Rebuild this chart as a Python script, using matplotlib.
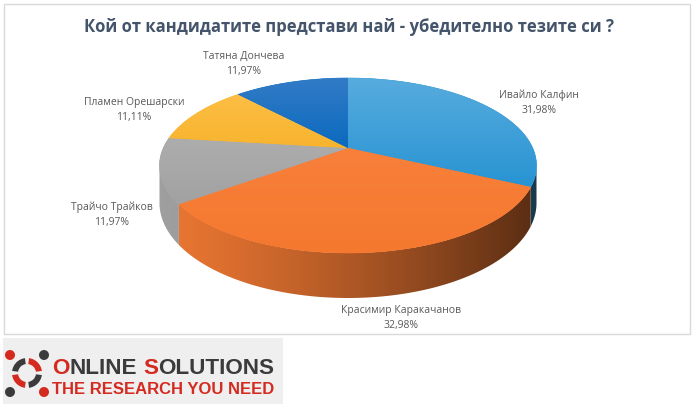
import numpy as np
import matplotlib.pyplot as plt
from matplotlib.patches import Polygon, Rectangle, Circle, Wedge
from matplotlib.colors import to_rgb

# данни
candidates = ["Ивайло Калфин", "Красимир Каракачанов", "Трайчо Трайков",
              "Пламен Орешарски", "Татяна Дончева"]
shares = [31.98, 32.98, 11.97, 11.11, 11.97]
title = "Кой от кандидатите представи най - убедително тезите си ?"

# стил
top_light = ['#57abde', '#f8803a', '#adadad', '#fcbe44', '#327bc6']
top_dark = ['#2894d3', '#f5782f', '#a2a2a2', '#f8b42e', '#0b6abf']
label_pos = [(539, 103), (401, 318), (112, 215), (134, 110), (244, 64)]

W, H = 695, 404
cx, cy = 348, 148
rx, ry = 184.7, 84
persp = 0.2
depth = 36


def project(theta):
    x = np.cos(theta)
    y = np.sin(theta)
    w = 1 + persp * y
    return cx + rx * x / w, cy - ry * y / w, w


def shade(col, X):
    t = np.clip((X - 160) / 377, 0, 1)
    f = 0.95 - 0.59 * t ** 1.3
    return np.array(to_rgb(col))[None, :] * f[:, None]


fig = plt.figure(figsize=(W / 100, H / 100), dpi=100)
ax = fig.add_axes([0, 0, 1, 1])
ax.axis('off')
ax.set_xlim(0, W)
ax.set_ylim(H, 0)

# рамка на графиката
ax.add_patch(Rectangle((4, 4), 686, 330, facecolor='white', edgecolor='#d9d9d9', lw=1, zorder=0))

ax.text(349, 27, title, ha='center', va='center', fontsize=12, fontweight='bold',
        color='#44546a', family=['Open Sans', 'DejaVu Sans'])

# ъгли на сегментите (от 12 часа по часовниковата стрелка)
total = sum(shares)
bounds = 90 - np.concatenate([[0], np.cumsum(shares)]) / total * 360
vis_hi = -np.degrees(np.arcsin(persp))
vis_lo = -180 - vis_hi

# странични стени
for i in range(len(shares)):
    a0, a1 = bounds[i], bounds[i + 1]
    hi = min(a0, vis_hi)
    lo = max(a1, vis_lo)
    if hi <= lo:
        continue
    base = np.mean([to_rgb(top_light[i]), to_rgb(top_dark[i])], axis=0)
    th = np.radians(np.linspace(hi, lo, 150))
    X, Y, w = project(th)
    pts = list(zip(X, Y)) + list(zip(X[::-1], (Y + depth / w)[::-1]))
    wall = Polygon(pts, closed=True, facecolor='none', edgecolor='none', zorder=2)
    ax.add_patch(wall)
    xs = np.linspace(X.min(), X.max(), 200)
    img = shade(base, xs)[None, :, :]
    im = ax.imshow(img, extent=(X.min(), X.max(), (Y + depth / w).max(), Y.min()),
                   origin='upper', aspect='auto', zorder=2, interpolation='bilinear')
    im.set_clip_path(wall)

# горна повърхност
for i in range(len(shares)):
    a0, a1 = bounds[i], bounds[i + 1]
    th = np.radians(np.linspace(a0, a1, 200))
    X, Y, _ = project(th)
    pts = [(cx, cy)] + list(zip(X, Y))
    poly = Polygon(pts, closed=True, facecolor=top_dark[i], edgecolor=top_dark[i], lw=0.4, zorder=3)
    ax.add_patch(poly)
    y0, y1 = min(Y.min(), cy), max(Y.max(), cy)
    grad = np.linspace(0, 1, 64)[:, None, None]
    img = (1 - grad) * np.array(to_rgb(top_light[i])) + grad * np.array(to_rgb(top_dark[i]))
    im = ax.imshow(img, extent=(min(X.min(), cx), max(X.max(), cx), y1, y0),
                   origin='upper', aspect='auto', zorder=4, interpolation='bilinear')
    im.set_clip_path(poly)

# етикети
for name, val, (lx, ly) in zip(candidates, shares, label_pos):
    txt = name + "\n" + f"{val:.2f}%".replace('.', ',')
    ax.text(lx, ly, txt, ha='center', va='center', fontsize=7.5, color='#595959',
            linespacing=1.45, family=['Open Sans', 'DejaVu Sans'], zorder=5)

# лого
red = '#d42a20'
dark = '#3b3b3b'
ax.add_patch(Rectangle((3, 338), 280, 66, facecolor='#efefef', edgecolor='none', zorder=1))
lc = (27, 373)
for k, col in enumerate([dark, red, dark, red]):
    ax.add_patch(Wedge(lc, 15, 90 * k + 8, 90 * k + 82, width=6, facecolor=col,
                       edgecolor='none', zorder=3))
for (hx, hy), col in [((10, 355), red), ((44, 355), dark), ((44, 392), red), ((10, 392), dark)]:
    ax.add_patch(Circle((hx, hy), 5, facecolor=col, edgecolor='none', zorder=3))

logo_font = ['Liberation Sans', 'DejaVu Sans']
logo_kw = dict(fontsize=16.2, fontweight='bold', family=logo_font)
renderer = fig.canvas.get_renderer()


def text_w(s):
    t = ax.text(0, 0, s, **logo_kw)
    bb = t.get_window_extent(renderer)
    t.remove()
    return bb.width


lx0, ly0 = 52, 368
word = "ONLINE SOLUTIONS"
pieces = [(0, 1, red), (1, 7, dark), (7, 8, red), (8, 16, dark)]
for a, b, col in pieces:
    start = lx0 + (text_w(word[:a + 1]) - text_w(word[a]) if a > 0 else 0)
    ax.text(start, ly0, word[a:b].strip() if a > 0 else word[a:b], ha='left', va='center',
            color=col, zorder=4, **logo_kw)
ax.text(lx0, 389, "THE RESEARCH YOU NEED", ha='left', va='center', fontsize=12,
        fontweight='bold', color=red, family=logo_font, zorder=4)

fig.savefig('out.png', dpi=100, facecolor='white')
